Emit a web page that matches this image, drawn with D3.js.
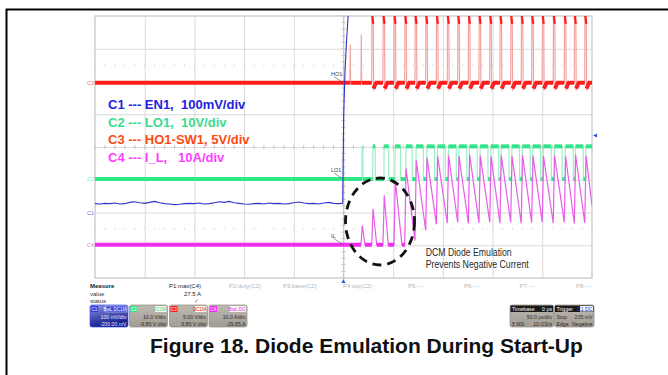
<!DOCTYPE html>
<html>
<head>
<meta charset="utf-8">
<script src="https://cdn.jsdelivr.net/npm/d3@7"></script>
<style>
  body { margin: 0; background: #fff; }
  svg { display: block; font-family: "Liberation Sans", Arial, sans-serif; }
  text { white-space: pre; }
</style>
</head>
<body>
<svg id="chart" width="668" height="375"></svg>
<script>
// timebase 50 us/div, trigger in the middle
const timeDomain = [-250, 250];

// channel settings, as shown in the scope's boxes
const chIds = ['C1', 'C2', 'C3', 'C4'];
const chScales = [100, 10, 5, 10];          // per div
const chOffsets = [-200, -9.8, 9.8, -29.85];
const chColors = ['#3434c8', '#2fe689', '#ff1c1c', '#f02cf0'];
const chEdgeColors = ['#3434c8', '#9af0c4', '#f4a3a3', '#e85ce8'];
const legendLines = ['C1 --- EN1,  100mV/div', 'C2 --- LO1,  10V/div', 'C3 --- HO1-SW1, 5V/div', 'C4 --- I_L,   10A/div'];
const legendColors = ['#2222e0', '#3cdc8c', '#ff4a12', '#ff40ff'];

// C1 EN1 (mV), sampled every 5 us from -250 us, then the rising edge
const enBase = [27, 26, 28, 27, 29, 26, 27, 31, 33, 30, 28, 31, 34, 30, 27, 26, 24, 25, 27, 28,
                27, 29, 26, 27, 30, 33, 31, 34, 30, 28, 26, 25, 27, 28, 26, 29, 27, 28, 26, 27,
                30, 32, 29, 27, 28, 26, 29, 31, 28, 27];
const enRiseT = [-0.8, 0.2, 1.5, 3.0, 4.6, 6.0];
const enRiseV = [28, 300, 430, 520, 600, 650];

// C3 HO1-SW1 pulses (us) and their heights (V)
const hoTimes = [6.5, 17.6, 28.4, 39.7, 50.8, 61.6, 71.9, 82.7, 93.4, 104.4, 114.9, 125.6,
                 136.3, 147.1, 157.4, 168.2, 178.8, 189.3, 199.9, 211.0, 222.1, 232.2, 242.7];
const hoPeaks = [5.9, 7.4, 10.7, 10.7, 10.7, 10.7, 10.7, 10.7, 10.7, 10.7, 10.7, 10.7,
                 10.7, 10.7, 10.7, 10.7, 10.7, 10.7, 10.7, 10.7, 10.7, 10.7, 10.7];

// C2 LO1 on-time after each HO pulse (us)
const loWidths = [0, 0.8, 2.5, 4.8, 5.6, 6.5, 7.4, 7.9, 8.0, 8.0, 8.1, 7.9,
                  8.0, 8.0, 8.1, 7.9, 8.0, 8.0, 8.1, 7.9, 8.0, 8.0, 8.0];
const loHigh = 10;

// C4 I_L (A): one ramp per HO pulse, starting at the second one
const ilStart = [0, 0, 0, 0, 0, 1.3, 4.4, 6.3, 6.6, 6.8, 6.5, 6.7, 6.9, 6.6, 6.8, 6.5, 6.7, 6.9, 6.6, 6.8, 6.5, 6.7];
const ilPeaks = [5.9, 11.0, 15.1, 19.6, 23.3, 25.7, 26.6, 27.0, 27.3, 27.1, 27.5, 27.2,
                 27.0, 27.3, 27.1, 27.4, 27.2, 27.0, 27.3, 27.1, 27.4, 27.2];
const dcmZero = [21.6, 33.4, 45.0, 58.8];   // where the DCM ramps hit 0 A
const ilEnd = 12;

const measureNames = ['P1:max(C4)', 'P2:duty(C2)', 'P3:base(C2)', 'P4:top(C2)', 'P5:---', 'P6:---', 'P7:---', 'P8:---'];

const svg = d3.select('#chart');
const plot = { left: 95, top: 16, right: 592, bottom: 278 };
const x = d3.scaleLinear().domain(timeDomain).range([plot.left, plot.right]);
const yDiv = d3.scaleLinear().domain([-4, 4]).range([plot.bottom, plot.top]);
const yCh = chScales.map((s, i) => d3.scaleLinear()
    .domain([-4 * s - chOffsets[i], 4 * s - chOffsets[i]])
    .range([plot.bottom, plot.top]));

// outer frame (top and left only)
svg.append('path').attr('d', 'M6.5,375 V9.5 H668').attr('fill', 'none').attr('stroke', '#000').attr('stroke-width', 2);

// graticule
const H = plot.bottom - plot.top, W = plot.right - plot.left;
svg.append('g').attr('transform', `translate(0,${plot.bottom})`)
    .call(d3.axisBottom(x).tickValues(d3.range(-200, 250, 50)).tickSize(-H).tickFormat(''))
    .call(g => g.select('.domain').remove())
    .call(g => g.selectAll('line').attr('stroke', '#dadada'));
svg.append('g').attr('transform', `translate(${plot.left},0)`)
    .call(d3.axisLeft(yDiv).tickValues(d3.range(-3, 4)).tickSize(-W).tickFormat(''))
    .call(g => g.select('.domain').remove())
    .call(g => g.selectAll('line').attr('stroke', '#dadada'));
svg.append('rect').attr('x', plot.left).attr('y', plot.top).attr('width', W).attr('height', H)
    .attr('fill', 'none').attr('stroke', '#cfcfcf').attr('stroke-width', 1.5);

// centre cross minor ticks
const grat = svg.append('g').attr('stroke', '#c4c4c4');
grat.selectAll('.hx').data(d3.range(-250, 251, 10)).join('line')
    .attr('x1', d => x(d)).attr('x2', d => x(d)).attr('y1', yDiv(0) - 2).attr('y2', yDiv(0) + 2);
grat.selectAll('.vy').data(d3.range(-4, 4.01, 0.2)).join('line')
    .attr('y1', d => yDiv(d)).attr('y2', d => yDiv(d)).attr('x1', x(0) - 2).attr('x2', x(0) + 2);
grat.append('line').attr('x1', x(0)).attr('x2', x(0)).attr('y1', plot.top).attr('y2', plot.bottom).attr('stroke', '#c8c8d4');
svg.append('g').attr('fill', '#c8c8c8').selectAll('circle')
    .data(d3.cross(d3.range(-250, 251, 10), [2.5, -2.5])).join('circle')
    .attr('cx', d => x(d[0])).attr('cy', d => yDiv(d[1])).attr('r', 0.6);

// legend text
svg.append('g').selectAll('text').data(legendLines).join('text')
    .attr('x', 108).attr('y', (d, i) => [109, 126.7, 144, 161.7][i])
    .attr('font-size', 13).attr('font-weight', 'bold')
    .attr('fill', (d, i) => legendColors[i]).text(d => d);

// ---- build traces ----
function hoTrace() {
  const full = [[-250, 0]], heavy = [], caps = [];
  let run = [[-250, 0]];
  hoTimes.forEach((t, i) => {
    const pk = hoPeaks[i];
    run.push([t, 0]); heavy.push(run);
    if (pk > 10) {
      full.push([t, 0], [t + 0.2, pk], [t + 1.6, pk - 1.9], [t + 1.9, -1.2], [t + 3, -0.5], [t + 4.5, 0]);
      caps.push([[t + 0.3, pk], [t + 1.5, pk - 1.7]]);
      heavy.push([[t + 1.9, -0.9], [t + 3, -0.4]]);
      run = [[t + 3, -0.4], [t + 4.5, 0]];
    } else {
      full.push([t, 0], [t + 0.3, pk], [t + 0.6, 0]);
      run = [[t + 0.6, 0]];
    }
  });
  full.push([250, 0]); run.push([250, 0]); heavy.push(run);
  return { full, heavy, caps };
}

function loTrace() {
  const full = [[-250, 0]], heavy = [];
  let run = [[-250, 0]];
  hoTimes.forEach((t, i) => {
    const w = loWidths[i];
    if (!w) return;
    const on = t + 1.0, off = on + w;
    run.push([on, 0]); heavy.push(run);
    full.push([on, 0], [on + 0.15, loHigh], [off, loHigh], [off + 0.15, 0]);
    if (w > 1.5) heavy.push([[on + 0.15, loHigh], [off, loHigh]]);
    run = [[off + 0.15, 0]];
  });
  full.push([260, 0]); run.push([260, 0]); heavy.push(run);
  return { full, heavy };
}

function ilTrace() {
  const full = [[-250, 0]], heavy = [];
  let run = [[-250, 0]];
  ilPeaks.forEach((pk, k) => {
    const t = hoTimes[k + 1];
    if (run) { run.push([t, 0]); heavy.push(run); run = null; }
    full.push([t, ilStart[k]], [t + 1.3, pk]);
    if (k < dcmZero.length) {
      full.push([dcmZero[k], 0]);
      run = [[dcmZero[k], 0]];
    } else if (k + 1 < ilPeaks.length) {
      full.push([hoTimes[k + 2], ilStart[k + 1]]);
    } else {
      full.push([250, ilEnd]);
    }
  });
  return { full, heavy };
}

function enTrace() {
  const pts = enBase.map((v, i) => [-250 + 5 * i, v]);
  enRiseT.forEach((t, i) => pts.push([t, enRiseV[i]]));
  return pts;
}

svg.append('clipPath').attr('id', 'plotclip').append('rect')
    .attr('x', plot.left).attr('y', plot.top).attr('width', W).attr('height', H);
const traces = svg.append('g').attr('clip-path', 'url(#plotclip)');

function drawChannel(ch, data, heavyWidth) {
  const line = d3.line().x(d => x(d[0])).y(d => yCh[ch](d[1]));
  traces.append('path').attr('d', line(data.full)).attr('fill', 'none')
      .attr('stroke', chEdgeColors[ch]).attr('stroke-width', 1.2);
  traces.append('g').selectAll('path').data(data.heavy).join('path')
      .attr('d', d => line(d)).attr('fill', 'none')
      .attr('stroke', chColors[ch]).attr('stroke-width', heavyWidth)
      .attr('stroke-linecap', 'butt');
  if (data.caps) {
    traces.append('g').selectAll('path').data(data.caps).join('path')
        .attr('d', d => line(d)).attr('fill', 'none')
        .attr('stroke', chColors[ch]).attr('stroke-width', 2.2);
  }
}

drawChannel(2, hoTrace(), 4);
drawChannel(1, loTrace(), 4);
traces.append('path').attr('d', d3.line().x(d => x(d[0])).y(d => yCh[0](d[1]))(enTrace()))
    .attr('fill', 'none').attr('stroke', chColors[0]).attr('stroke-width', 1.1);
drawChannel(3, ilTrace(), 4);

// channel markers on the left edge
const markerVals = [0, 0, 0, 0];
svg.append('g').selectAll('text').data(chIds).join('text')
    .attr('x', plot.left - 1).attr('y', (d, i) => yCh[i](markerVals[i]) + 2)
    .attr('text-anchor', 'end').attr('font-size', 5.5)
    .attr('fill', (d, i) => chColors[i]).attr('opacity', 0.7).text(d => d);

// trace labels with leader lines
const tagNames = ['HO1', 'LO1', 'IL'];
const tagCh = [2, 1, 3];
const tags = svg.append('g');
tagNames.forEach((n, i) => {
  const yy = yCh[tagCh[i]](0);
  tags.append('text').attr('x', 331).attr('y', yy - 7).attr('font-size', 5.5).attr('fill', '#444').text(n);
  tags.append('line').attr('x1', 334).attr('y1', yy - 6).attr('x2', x(0)).attr('y2', yy)
      .attr('stroke', '#555').attr('stroke-width', 0.6);
});

// annotation
svg.append('ellipse').attr('cx', 380).attr('cy', 221.5).attr('rx', 34.5).attr('ry', 43.5)
    .attr('fill', 'none').attr('stroke', '#111').attr('stroke-width', 2.8)
    .attr('stroke-dasharray', '9,6');
svg.append('text').attr('x', 425.7).attr('y', 256).attr('font-size', 10.5).attr('fill', '#2a2a2a')
    .attr('textLength', 86).attr('lengthAdjust', 'spacingAndGlyphs').text('DCM Diode Emulation');
svg.append('text').attr('x', 425.7).attr('y', 267.5).attr('font-size', 10.5).attr('fill', '#2a2a2a')
    .attr('textLength', 103).attr('lengthAdjust', 'spacingAndGlyphs').text('Prevents Negative Current');

// trigger markers
svg.append('path').attr('d', `M${x(0) - 2},${plot.bottom + 5} L${x(0)},${plot.bottom + 1} L${x(0) + 2},${plot.bottom + 5} Z`).attr('fill', '#3050e0');
svg.append('path').attr('d', `M${plot.right + 5},${yCh[0](235) - 2} L${plot.right + 1},${yCh[0](235)} L${plot.right + 5},${yCh[0](235) + 2} Z`).attr('fill', '#3050e0');

// measurement row
const meas = svg.append('g').attr('font-size', 6);
meas.append('text').attr('x', 90).attr('y', 288).attr('font-weight', 'bold').attr('fill', '#222').text('Measure');
meas.append('text').attr('x', 90).attr('y', 295.5).attr('fill', '#333').text('value');
meas.append('text').attr('x', 90).attr('y', 302.5).attr('fill', '#333').text('status');
const measX = [201, 229, 283, 343, 408, 464, 519.5, 576];
meas.selectAll('.mname').data(measureNames).join('text')
    .attr('x', (d, i) => measX[i]).attr('y', 288)
    .attr('text-anchor', (d, i) => i === 0 ? 'end' : 'start')
    .attr('fill', (d, i) => i === 0 ? '#222' : '#b4b4b4').text(d => d);
meas.append('text').attr('x', 201).attr('y', 295.5).attr('text-anchor', 'end').attr('fill', '#222').text('27.5 A');
meas.append('text').attr('x', 199).attr('y', 302.5).attr('text-anchor', 'end').attr('fill', '#e020e0').text('✓');

// channel boxes
const defs = svg.append('defs');
const gb = defs.append('linearGradient').attr('id', 'c1grad').attr('x1', 0).attr('y1', 0).attr('x2', 0.3).attr('y2', 1);
gb.append('stop').attr('offset', 0).attr('stop-color', '#8a93e6');
gb.append('stop').attr('offset', 1).attr('stop-color', '#141a8a');
const gg = defs.append('linearGradient').attr('id', 'greygrad').attr('x1', 0).attr('y1', 0).attr('x2', 0).attr('y2', 1);
gg.append('stop').attr('offset', 0).attr('stop-color', '#bdb9b1');
gg.append('stop').attr('offset', 1).attr('stop-color', '#a19d95');

const boxX = [90, 129.5, 169.5, 209];
const boxHead = ['BwL DC1M', 'DC1M', 'DC1M', 'BwL DC'];
const boxL1 = ['100 mV/div', '10.0 V/div', '5.00 V/div', '10.0 A/div'];
const boxL2 = ['-200.00 mV', '-9.80 V ofst', '9.80 V ofst', '-29.85 A'];
const boxes = svg.append('g').attr('font-size', 5.2);
chIds.forEach((id, i) => {
  const g = boxes.append('g').attr('transform', `translate(${boxX[i]},305)`);
  g.append('rect').attr('width', 38).attr('height', 22).attr('rx', 2)
      .attr('fill', i === 0 ? 'url(#c1grad)' : 'url(#greygrad)')
      .attr('stroke', i === 0 ? '#3a50e8' : '#8d8a84').attr('stroke-width', 0.7);
  g.append('rect').attr('x', 1).attr('y', 1).attr('width', 7).attr('height', 6)
      .attr('fill', i === 0 ? '#2a3ae8' : chColors[i]);
  g.append('text').attr('x', 1.6).attr('y', 6).attr('fill', '#fff').attr('font-size', 4.5).text(id);
  const hw = boxHead[i].length * 2.6 + 1;
  g.append('rect').attr('x', 37 - hw).attr('y', 1).attr('width', hw).attr('height', 6)
      .attr('fill', i === 0 ? '#3447d8' : '#f4f4f4').attr('stroke', i === 0 ? '#fff' : 'none').attr('stroke-width', 0.4);
  g.append('text').attr('x', 36.5).attr('y', 6).attr('text-anchor', 'end').attr('font-size', 4.6)
      .attr('fill', i === 0 ? '#fff' : chColors[i]).text(boxHead[i]);
  g.append('text').attr('x', 36.5).attr('y', 14).attr('text-anchor', 'end')
      .attr('fill', i === 0 ? '#e8ecff' : '#2a2a2a').text(boxL1[i]);
  g.append('text').attr('x', 36.5).attr('y', 20.5).attr('text-anchor', 'end')
      .attr('fill', i === 0 ? '#e8ecff' : '#2a2a2a').text(boxL2[i]);
});

// timebase / trigger boxes
const tb = svg.append('g').attr('font-size', 5.2);
function infoBox(bx, w, head, headRight, l1a, l1b, l2a, l2b, tagged) {
  const g = tb.append('g').attr('transform', `translate(${bx},305)`);
  g.append('rect').attr('width', w).attr('height', 22).attr('rx', 2).attr('fill', 'url(#greygrad)')
      .attr('stroke', '#8d8a84').attr('stroke-width', 0.7);
  g.append('rect').attr('x', 0.5).attr('y', 0.5).attr('width', w - 1).attr('height', 6.5).attr('fill', '#1a1a1a');
  g.append('text').attr('x', 2).attr('y', 5.6).attr('fill', '#fff').text(head);
  if (tagged) g.append('rect').attr('x', w - 14).attr('y', 1).attr('width', 13).attr('height', 5.5).attr('fill', '#f2f2f2');
  g.append('text').attr('x', w - 1.5).attr('y', 5.6).attr('text-anchor', 'end').attr('fill', tagged ? '#2a3ae8' : '#fff').text(headRight);
  g.append('text').attr('x', 2).attr('y', 14).attr('fill', '#2a2a2a').text(l1a);
  g.append('text').attr('x', w - 1.5).attr('y', 14).attr('text-anchor', 'end').attr('fill', '#2a2a2a').text(l1b);
  g.append('text').attr('x', 2).attr('y', 20.5).attr('fill', '#2a2a2a').text(l2a);
  g.append('text').attr('x', w - 1.5).attr('y', 20.5).attr('text-anchor', 'end').attr('fill', '#2a2a2a').text(l2b);
}
infoBox(510, 43.5, 'Timebase', '0 µs', '', '50.0 µs/div', '5 MS', '10 GS/s', false);
infoBox(554.5, 39.5, 'Trigger', 'C1 DC', 'Stop', '235 mV', 'Edge', 'Negative', true);

// caption
svg.append('text').attr('x', 150).attr('y', 353.3).attr('font-size', 21).attr('font-weight', 'bold')
    .attr('fill', '#111').text('Figure 18. Diode Emulation During Start-Up');
</script>
</body>
</html>
